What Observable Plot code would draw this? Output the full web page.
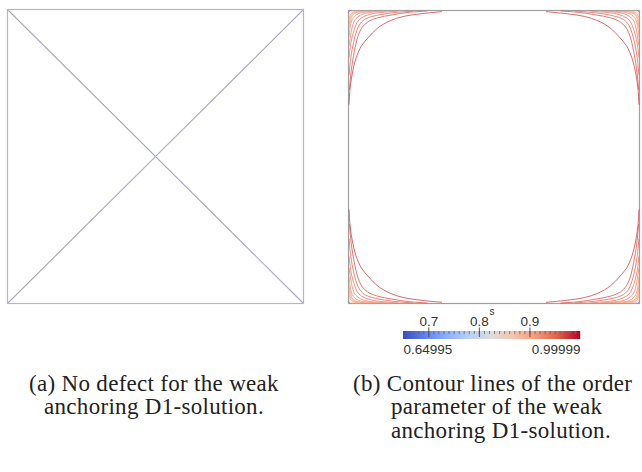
<!DOCTYPE html>
<html><head><meta charset="utf-8">
<script src="https://cdn.jsdelivr.net/npm/d3@7"></script>
<script src="https://cdn.jsdelivr.net/npm/@observablehq/plot@0.6"></script>
<style>
body{margin:0;background:#fff;}
#root{position:relative;width:642px;height:472px;overflow:hidden;background:#fff;}
.p{position:absolute;}
.cap{position:absolute;font-family:"Liberation Serif",serif;font-size:23px;letter-spacing:0.3px;color:#222;white-space:nowrap;line-height:1;}
</style></head><body><div id="root"></div>
<script>
// ---- data ----
const sMin = 0.64995, sMax = 0.99999;
const majorTicks = [0.7, 0.8, 0.9];
const minorTicks = [0.65,0.66,0.67,0.68,0.69,0.70,0.71,0.72,0.73,0.74,0.75,0.76,0.77,0.78,0.79,0.80,0.81,0.82,0.83,0.84,0.85,0.86,0.87,0.88,0.89,0.90,0.91,0.92,0.93,0.94,0.95,0.96,0.97,0.98,0.99];
const endLabels = ["0.64995", "0.99999"];
const colorTitle = "s";
const coolStops = [0.64995, 0.6937, 0.73746, 0.78122, 0.82497, 0.86873, 0.91248, 0.95624, 0.99999];
const coolColors = ["#3b4cc0","#6282ea","#8db0fe","#b8d0f9","#dddddd","#f5c4ad","#f49a7b","#de604d","#b40426"];
const diagonal1 = [[0,0],[1,1]];
const diagonal2 = [[0,1],[1,0]];
// contour levels and their point lists in one corner (u along horizontal edge, v along vertical edge, from the corner)
const contourLevels = [0.975, 0.965, 0.955, 0.945, 0.935, 0.925, 0.915, 0.905, 0.895, 0.885, 0.875, 0.70];
const contourPoints = [
  [[0.32,0.004],[0.25,0.011],[0.19,0.02],[0.143,0.035],[0.1,0.06],[0.07,0.09],[0.045,0.12],[0.025,0.165],[0.012,0.22],[0.005,0.27],[0.002,0.32]],
  [[0.27,0.002],[0.21,0.006],[0.15,0.015],[0.1,0.025],[0.065,0.04],[0.045,0.06],[0.032,0.09],[0.02,0.14],[0.01,0.2],[0.003,0.27]],
  [[0.22,0.002],[0.15,0.008],[0.1,0.016],[0.06,0.028],[0.04,0.045],[0.028,0.07],[0.017,0.11],[0.008,0.16],[0.002,0.22]],
  [[0.17,0.002],[0.11,0.007],[0.07,0.014],[0.045,0.025],[0.03,0.04],[0.02,0.065],[0.01,0.1],[0.002,0.16]],
  [[0.13,0.002],[0.08,0.006],[0.05,0.012],[0.032,0.022],[0.02,0.035],[0.012,0.06],[0.002,0.12]],
  [[0.1,0.002],[0.06,0.005],[0.035,0.01],[0.022,0.018],[0.013,0.03],[0.007,0.05],[0.002,0.09]],
  [[0.07,0.002],[0.04,0.005],[0.022,0.01],[0.013,0.018],[0.008,0.03],[0.002,0.06]],
  [[0.055,0.002],[0.03,0.005],[0.016,0.01],[0.008,0.02],[0.002,0.05]],
  [[0.04,0.002],[0.022,0.005],[0.011,0.01],[0.005,0.018],[0.002,0.035]],
  [[0.03,0.002],[0.016,0.005],[0.008,0.011],[0.002,0.025]],
  [[0.016,0.002],[0.007,0.005],[0.002,0.014]],
  [[0.006,0.001],[0.001,0.006]]
];
const cornerSigns = [[0,0],[1,0],[0,1],[1,1]]; // TL, TR, BL, BR mirrors
const captionA = ["(a) No defect for the weak", "anchoring D1-solution."];
const captionB = ["(b) Contour lines of the order", "parameter of the weak", "anchoring D1-solution."];

// ---- build ----
const root = document.getElementById("root");
function place(el, left, top) { el.classList.add("p"); el.style.left = left + "px"; el.style.top = top + "px"; root.appendChild(el); }

// left panel
const left = Plot.plot({
  width: 310, height: 312, marginLeft: 7, marginTop: 9, marginRight: 7, marginBottom: 9,
  x: {domain: [0, 1], axis: null}, y: {domain: [0, 1], axis: null},
  marks: [
    Plot.line(diagonal1, {x: d => d[0], y: d => d[1], stroke: "#a8a8c6", strokeWidth: 1.1}),
    Plot.line(diagonal2, {x: d => d[0], y: d => d[1], stroke: "#a8a8c6", strokeWidth: 1.1}),
    Plot.frame({stroke: "#b8b8bc", strokeWidth: 1.2})
  ]
});
place(left, 0, 0);

// right panel
const rows = [];
contourLevels.forEach((lev, i) => {
  cornerSigns.forEach(([fx, fy], c) => {
    contourPoints[i].forEach(([u, v]) => {
      rows.push({x: fx ? 1 - u : u, y: fy ? 1 - v : v, level: lev, id: i + "-" + c});
    });
  });
});
const colorOpts = {type: "linear", domain: coolStops, range: coolColors};
const right = Plot.plot({
  width: 302, height: 310, marginLeft: 8, marginTop: 10, marginRight: 3, marginBottom: 7,
  x: {domain: [0, 1], axis: null}, y: {domain: [1, 0], axis: null},
  color: colorOpts,
  marks: [
    Plot.frame({stroke: "#a0a0a4", strokeWidth: 1.2}),
    Plot.line(rows, {x: "x", y: "y", z: "id", stroke: "level", strokeWidth: 1, strokeOpacity: 0.75, curve: "catmull-rom"})
  ]
});
place(right, 340, 0);

// colorbar
const nSteps = 177;
const step = (sMax - sMin) / nSteps;
const cells = d3.range(nSteps).map(i => ({x1: sMin + i * step, x2: sMin + (i + 1) * step + step * 0.2, v: sMin + (i + 0.5) * step}));
const bar = Plot.plot({
  width: 230, height: 60, marginLeft: 23, marginRight: 30, marginTop: 31, marginBottom: 21,
  x: {domain: [sMin, sMax], axis: null}, y: {domain: [0, 1], axis: null},
  color: colorOpts,
  style: {fontFamily: "Liberation Sans, Arial, sans-serif", fontSize: "13px", color: "#333", overflow: "visible"},
  marks: [
    Plot.rect(cells, {x1: "x1", x2: "x2", y1: 0, y2: 1, fill: "v"}),
    Plot.ruleX(minorTicks, {x: d => d, y1: 1, y2: 0.62, stroke: "#666", strokeWidth: 0.8}),
    Plot.ruleX(majorTicks, {x: d => d, y1: 1.45, y2: 0.25, stroke: "#444", strokeWidth: 0.9}),
    Plot.text(majorTicks, {x: d => d, y: 1, dy: -10, text: d => String(d), fill: "#333", fontSize: 13.5}),
    Plot.text([colorTitle], {x: (sMin + sMax) / 2, y: 1, dy: -20, text: d => d, fill: "#333", fontSize: 10}),
    Plot.text([endLabels[0]], {x: sMin, y: 0, dy: 10, text: d => d, textAnchor: "start", fill: "#333", fontSize: 13.5}),
    Plot.text([endLabels[1]], {x: sMax, y: 0, dy: 10, text: d => d, textAnchor: "end", fill: "#333", fontSize: 13.5})
  ]
});
place(bar, 380, 300);

// captions
function cap(text, leftPx, top, center) {
  const d = document.createElement("div");
  d.className = "cap";
  d.textContent = text;
  d.style.top = top + "px";
  if (center) { d.style.left = "0px"; d.style.width = "308px"; d.style.textAlign = "center"; }
  else d.style.left = leftPx + "px";
  root.appendChild(d);
}
cap(captionA[0], 0, 372, true);
cap(captionA[1], 0, 395, true);
cap(captionB[0], 353, 372, false);
cap(captionB[1], 391, 395, false);
cap(captionB[2], 391, 419, false);
</script></body></html>
